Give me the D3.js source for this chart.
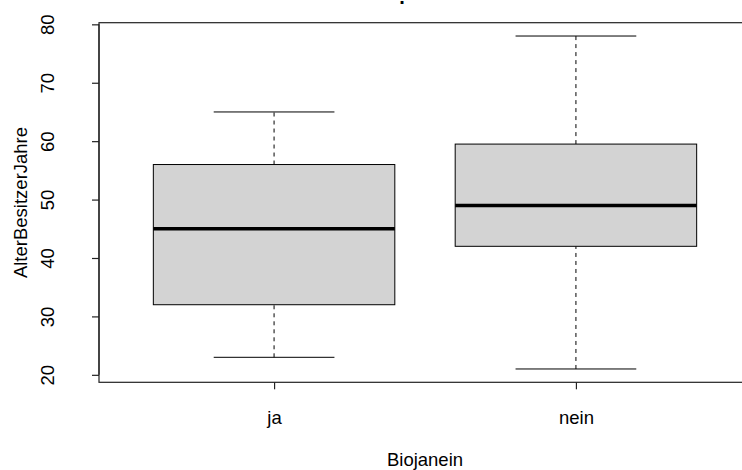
<!DOCTYPE html>
<html>
<head>
<meta charset="utf-8">
<script src="https://cdn.jsdelivr.net/npm/d3@7"></script>
<style>
  html, body { margin: 0; padding: 0; background: #fff; }
  svg { display: block; }
  text { font-family: "Liberation Sans", Arial, sans-serif; fill: #000; }
</style>
</head>
<body>
<svg id="chart" width="742" height="470"></svg>
<script>
// ---- data ----
const categories = ["ja", "nein"];
const whiskerLow = [23, 21];
const q1 = [32, 42];
const median = [45, 49];
const q3 = [56, 59.5];
const whiskerHigh = [65, 78];
const yTicks = [20, 30, 40, 50, 60, 70, 80];
const xTitle = "Biojanein";
const yTitle = "AlterBesitzerJahre";

// ---- layout ----
const svg = d3.select("#chart");
const fontSize = 18.5;
const plotL = 99, plotR = 751, plotT = 22.7, plotB = 382.3;

const dataMin = d3.min(whiskerLow), dataMax = d3.max(whiskerHigh);
const pad = (dataMax - dataMin) * 0.04;
const y = d3.scaleLinear().domain([dataMin - pad, dataMax + pad]).range([plotB, plotT]);
const xPad = categories.length * 0.04;
const x = d3.scaleLinear().domain([0.5 - xPad, categories.length + 0.5 + xPad]).range([plotL, plotR]);

const boxHalf = 0.4, stapleHalf = 0.2;
const lineCol = "#000";

const g = svg.append("g");

categories.forEach((c, i) => {
  const cx = x(i + 1);
  const w = x(i + 1 + boxHalf) - cx;
  const s = x(i + 1 + stapleHalf) - cx;
  g.append("line").attr("x1", cx).attr("x2", cx).attr("y1", y(whiskerLow[i])).attr("y2", y(q1[i]))
    .attr("stroke", lineCol).attr("stroke-width", 1).attr("stroke-dasharray", "4,4");
  g.append("line").attr("x1", cx).attr("x2", cx).attr("y1", y(q3[i])).attr("y2", y(whiskerHigh[i]))
    .attr("stroke", lineCol).attr("stroke-width", 1).attr("stroke-dasharray", "4,4");
  g.append("line").attr("x1", cx - s).attr("x2", cx + s).attr("y1", y(whiskerLow[i])).attr("y2", y(whiskerLow[i]))
    .attr("stroke", lineCol).attr("stroke-width", 1);
  g.append("line").attr("x1", cx - s).attr("x2", cx + s).attr("y1", y(whiskerHigh[i])).attr("y2", y(whiskerHigh[i]))
    .attr("stroke", lineCol).attr("stroke-width", 1);
  g.append("rect").attr("x", cx - w).attr("y", y(q3[i])).attr("width", 2 * w).attr("height", y(q1[i]) - y(q3[i]))
    .attr("fill", "#d3d3d3").attr("stroke", lineCol).attr("stroke-width", 1);
  g.append("line").attr("x1", cx - w).attr("x2", cx + w).attr("y1", y(median[i])).attr("y2", y(median[i]))
    .attr("stroke", "#000").attr("stroke-width", 3.5);
});

// plot frame
svg.append("rect").attr("x", plotL).attr("y", plotT).attr("width", plotR - plotL).attr("height", plotB - plotT)
  .attr("fill", "none").attr("stroke", "#222").attr("stroke-width", 1.2);

// y axis
const yAxis = svg.append("g").attr("transform", `translate(${plotL},0)`)
  .call(d3.axisLeft(y).tickValues(yTicks).tickSize(7).tickSizeOuter(0).tickFormat(d3.format("d")));
yAxis.select(".domain").attr("d", `M0,${y(yTicks[0])}V${y(yTicks[yTicks.length-1])}`).attr("stroke", "#222").attr("stroke-width", 1.2);
yAxis.selectAll(".tick line").attr("stroke", "#222").attr("stroke-width", 1.2);
yAxis.selectAll(".tick text")
  .attr("x", null).attr("dy", null)
  .attr("transform", "translate(-45,0) rotate(-90)")
  .attr("text-anchor", "middle")
  .style("font-size", fontSize + "px")
  .style("font-family", "'Liberation Sans', Arial, sans-serif")
  .attr("fill", "#000");

// x axis
const xAxis = svg.append("g").attr("transform", `translate(0,${plotB})`)
  .call(d3.axisBottom(x).tickValues(categories.map((c, i) => i + 1)).tickSize(7).tickSizeOuter(0)
    .tickFormat((d) => categories[d - 1]));
xAxis.select(".domain").attr("stroke", "none");
xAxis.selectAll(".tick line").attr("stroke", "#222").attr("stroke-width", 1.2);
xAxis.selectAll(".tick text")
  .attr("y", null).attr("dy", null)
  .attr("transform", "translate(0,42)")
  .style("font-size", fontSize + "px")
  .style("font-family", "'Liberation Sans', Arial, sans-serif")
  .attr("fill", "#000");

// axis titles
svg.append("text").attr("x", (plotL + plotR) / 2).attr("y", 466).attr("text-anchor", "middle")
  .style("font-size", fontSize + "px").text(xTitle);
svg.append("text").attr("transform", `translate(27,${(plotT + plotB) / 2}) rotate(-90)`).attr("text-anchor", "middle")
  .style("font-size", fontSize + "px").text(yTitle);

// clipped title remnant
svg.append("text").attr("x", 402).attr("y", 4).attr("text-anchor", "middle")
  .style("font-size", "20px").style("font-weight", "bold").text(".");
</script>
</body>
</html>
